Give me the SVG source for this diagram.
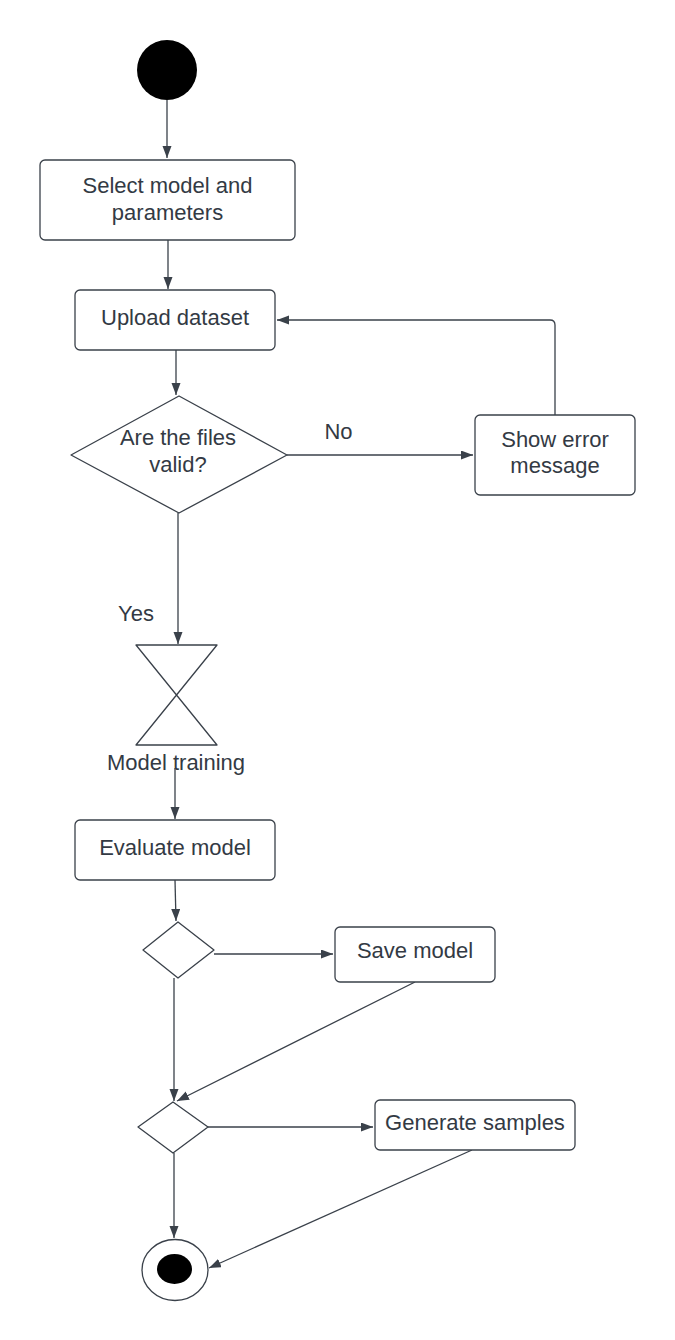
<svg xmlns="http://www.w3.org/2000/svg" width="675" height="1340" viewBox="0 0 675 1340">
<style>
.box{fill:#ffffff;stroke:#3a414a;stroke-width:1.3}
.dia{fill:#ffffff;stroke:#3a414a;stroke-width:1.3;stroke-linejoin:round}
.t{font-family:"Liberation Sans",Arial,sans-serif;font-size:22px;fill:#333a44;text-anchor:middle}
.c{fill:none;stroke:#3a414a;stroke-width:1.3;marker-end:url(#ah)}
</style>
<defs>
<marker id="ah" markerUnits="userSpaceOnUse" markerWidth="13" markerHeight="10" refX="12" refY="4.5" orient="auto">
<path d="M0,0 L12,4.5 L0,9 z" fill="#3a414a"/>
</marker>
</defs>
<rect width="675" height="1340" fill="#ffffff"/>
<g id="connectors">
<path class="c" d="M167,100 L167,158"/>
<path class="c" d="M168,240 L168,289"/>
<path class="c" d="M176,350 L176,395"/>
<path class="c" d="M555,415 L555,325 Q555,320 550,320 L277,320"/>
<path class="c" d="M287,455 L473,455"/>
<path class="c" d="M178,513 L178,644"/>
<path class="c" d="M175,768 L175,819"/>
<path class="c" d="M175,880 L176,921"/>
<path class="c" d="M214,954 L333,954"/>
<path class="c" d="M174,978 L174,1101"/>
<path class="c" d="M415,982 L177,1101"/>
<path class="c" d="M208,1127 L373,1127"/>
<path class="c" d="M174,1153 L174,1238"/>
<path class="c" d="M472,1150 L209,1268"/>
</g>
<g id="start"><circle cx="167" cy="70" r="30" fill="#000000"/></g>
<g id="select"><rect class="box" x="40" y="160" width="255" height="80" rx="5"/>
<text class="t" x="167.5" y="193">Select model and</text><text class="t" x="167.5" y="220">parameters</text></g>
<g id="upload"><rect class="box" x="75" y="290" width="200" height="60" rx="5"/>
<text class="t" x="175" y="325">Upload dataset</text></g>
<g id="valid"><path class="dia" d="M179,396 L287,455 L179,513 L71,455 Z"/>
<text class="t" x="178" y="445">Are the files</text><text class="t" x="178" y="472">valid?</text></g>
<g id="label-no"><text class="t" x="338.5" y="439">No</text></g>
<g id="error"><rect class="box" x="475" y="415" width="160" height="80" rx="5"/>
<text class="t" x="555" y="447">Show error</text><text class="t" x="555" y="473">message</text></g>
<g id="label-yes"><text class="t" x="136" y="621">Yes</text></g>
<g id="training"><path class="dia" d="M136,645 L217,645 L136,745 L217,745 Z" stroke-linejoin="miter"/>
<text class="t" x="176" y="770">Model training</text></g>
<g id="evaluate"><rect class="box" x="75" y="820" width="200" height="60" rx="5"/>
<text class="t" x="175" y="855">Evaluate model</text></g>
<g id="decision1"><path class="dia" d="M178,922 L214,950 L178,978 L143,950 Z"/></g>
<g id="save"><rect class="box" x="335" y="927" width="160" height="55" rx="5"/>
<text class="t" x="415" y="958">Save model</text></g>
<g id="decision2"><path class="dia" d="M173,1102 L208,1127 L173,1153 L138,1127 Z"/></g>
<g id="generate"><rect class="box" x="375" y="1100" width="200" height="50" rx="5"/>
<text class="t" x="475" y="1130">Generate samples</text></g>
<g id="end"><ellipse cx="175" cy="1270" rx="33" ry="30.5" fill="#ffffff" stroke="#3a414a" stroke-width="1.3"/>
<ellipse cx="174.5" cy="1269" rx="17.5" ry="15" fill="#000000"/></g>
</svg>
